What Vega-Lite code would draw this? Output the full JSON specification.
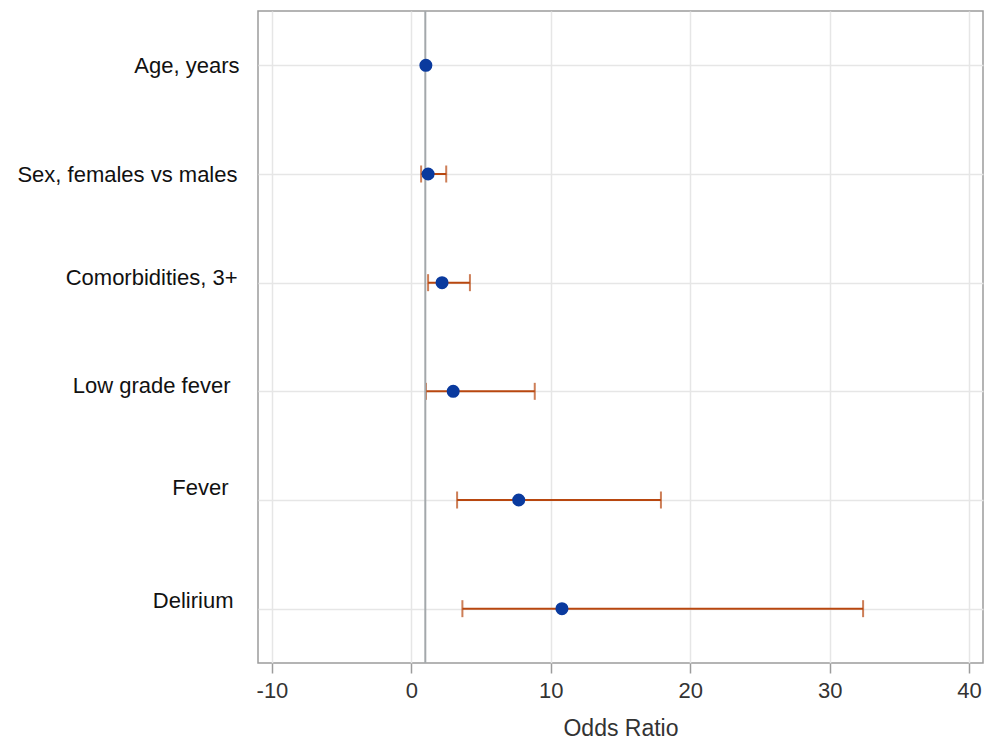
{
  "$schema": "https://vega.github.io/schema/vega-lite/v6.json",
  "width": 725,
  "height": 652,
  "autosize": {"type": "none"},
  "padding": {"left": 258, "top": 11, "right": 3, "bottom": 77},
  "config": {
    "font": "Liberation Sans",
    "view": {"stroke": "#9c9c9c", "strokeWidth": 1.5}
  },
  "data": {
    "values": [
      {"label": "Age, years", "or": 1.04, "lower": null, "upper": null},
      {"label": "Sex, females vs males", "or": 1.2, "lower": 0.7, "upper": 2.5},
      {"label": "Comorbidities, 3+", "or": 2.2, "lower": 1.2, "upper": 4.2},
      {"label": "Low grade fever", "or": 3.0, "lower": 1.05, "upper": 8.85},
      {"label": "Fever", "or": 7.7, "lower": 3.28, "upper": 17.9},
      {"label": "Delirium", "or": 10.8, "lower": 3.66, "upper": 32.4}
    ]
  },
  "encoding": {
    "y": {
      "field": "label",
      "type": "nominal",
      "sort": null,
      "scale": {"type": "point", "padding": 0.5, "domain": ["Age, years", "Sex, females vs males", "Comorbidities, 3+", "Low grade fever", "Fever", "Delirium"]},
      "axis": {
        "title": null,
        "domain": false,
        "ticks": false,
        "grid": true,
        "gridColor": "#e6e6e6",
        "gridWidth": 1.5,
        "labelFontSize": 22,
        "labelLimit": 300,
        "labelColor": "#111111",
        "labelPadding": {"expr": "datum.value == 'Low grade fever' ? 28 : datum.value == 'Fever' ? 30 : datum.value == 'Delirium' ? 25 : datum.value == 'Age, years' ? 19 : 21"},
        "labelOffset": {"expr": "datum.value == 'Comorbidities, 3+' ? -5 : datum.value == 'Low grade fever' ? -6 : datum.value == 'Fever' ? -13 : datum.value == 'Delirium' ? -8 : 0"}
      }
    }
  },
  "layer": [
    {
      "mark": {"type": "rule", "color": "#b8470f", "strokeWidth": 2},
      "encoding": {
        "x": {
          "field": "lower",
          "type": "quantitative",
          "scale": {"domain": [-11, 41], "nice": false, "zero": false},
          "axis": {
            "title": "Odds Ratio",
            "values": [-10, 0, 10, 20, 30, 40],
            "labelExpr": "datum.value + ''",
            "domain": false,
            "grid": true,
            "gridColor": "#e6e6e6",
            "gridWidth": 1.5,
            "tickColor": "#9c9c9c",
            "tickSize": 10,
            "tickWidth": 1.5,
            "labelFontSize": 22,
            "labelColor": "#333333",
            "labelPadding": 7,
            "titleFontSize": 23,
            "titleFontWeight": "normal",
            "titleColor": "#333333",
            "titlePadding": 16
          }
        },
        "x2": {"field": "upper"}
      }
    },
    {
      "mark": {"type": "tick", "color": "#b8470f", "thickness": 2, "size": 17, "orient": "vertical"},
      "encoding": {"x": {"field": "lower", "type": "quantitative"}}
    },
    {
      "mark": {"type": "tick", "color": "#b8470f", "thickness": 2, "size": 17, "orient": "vertical"},
      "encoding": {"x": {"field": "upper", "type": "quantitative"}}
    },
    {
      "data": {"values": [{"ref": 1}]},
      "mark": {"type": "rule", "color": "#a3a8ab", "strokeWidth": 2},
      "encoding": {"x": {"field": "ref", "type": "quantitative"}, "y": null}
    },
    {
      "mark": {"type": "point", "filled": true, "opacity": 1, "size": 170, "color": "#0a3a9e"},
      "encoding": {"x": {"field": "or", "type": "quantitative"}}
    }
  ]
}
